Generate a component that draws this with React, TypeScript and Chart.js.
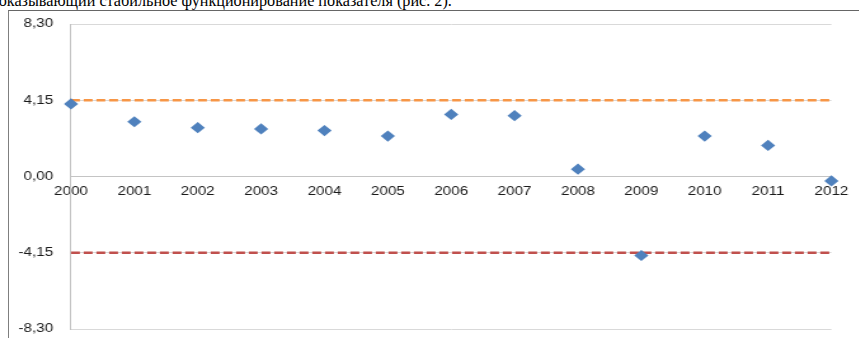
import React, { useEffect, useRef } from 'react';
import { Chart, registerables } from 'chart.js';

Chart.register(...registerables);

// ---- data ----
const years = ['2000', '2001', '2002', '2003', '2004', '2005', '2006', '2007', '2008', '2009', '2010', '2011', '2012'];
const values = [3.95, 2.98, 2.66, 2.59, 2.5, 2.2, 3.38, 3.31, 0.4, -4.3, 2.2, 1.69, -0.24];
const yTicks = [-8.3, -4.15, 0, 4.15, 8.3];
const upperLimit = 4.15;
const lowerLimit = -4.15;
const captionText = 'показывающий стабильное функционирование показателя (рис. 2).';

// ---- layout ----
const PAGE_W = 859;
const PAGE_H = 338;
const S = 1.27; // horizontal stretch of the original picture
const CW = PAGE_W / S;

const fmt = (v: number) => v.toFixed(2).replace('.', ',');

export default function App() {
  const ref = useRef<HTMLCanvasElement | null>(null);

  useEffect(() => {
    if (!ref.current) return;
    const font = { family: "'Liberation Sans', Arial, sans-serif", size: 12 };
    const chart = new Chart(ref.current, {
      type: 'line',
      data: {
        labels: years,
        datasets: [
          {
            label: 'values',
            data: values,
            showLine: false,
            pointStyle: 'rectRot',
            pointRadius: 5.6,
            pointHoverRadius: 5.6,
            backgroundColor: '#4F81BD',
            borderColor: '#4F81BD',
            pointBorderWidth: 0,
          },
          {
            label: 'upper',
            data: [
              { x: years[0], y: upperLimit },
              { x: years[years.length - 1], y: upperLimit },
            ] as any,
            borderColor: '#F79646',
            borderWidth: 2.3,
            borderDash: [7, 3],
            pointRadius: 0,
            fill: false,
          },
          {
            label: 'lower',
            data: [
              { x: years[0], y: lowerLimit },
              { x: years[years.length - 1], y: lowerLimit },
            ] as any,
            borderColor: '#C0504D',
            borderWidth: 2.3,
            borderDash: [7, 3],
            pointRadius: 0,
            fill: false,
          },
        ],
      },
      options: {
        animation: false,
        responsive: false,
        maintainAspectRatio: false,
        devicePixelRatio: 1,
        layout: {
          padding: { left: 0, right: (PAGE_W - 834) / S, top: 24, bottom: PAGE_H - 329 },
        },
        plugins: {
          legend: { display: false },
          tooltip: { enabled: false },
        },
        scales: {
          x: {
            type: 'category',
            position: { y: 0 } as any,
            offset: false,
            grid: { display: false, drawTicks: false },
            border: { display: true, color: '#c4c4c4', width: 1 },
            ticks: { padding: 8, autoSkip: false, maxRotation: 0, font, color: '#1a1a1a' },
          },
          y: {
            type: 'linear',
            min: -8.3,
            max: 8.3,
            afterBuildTicks: (scale: any) => {
              scale.ticks = yTicks.map((v) => ({ value: v }));
            },
            afterFit: (scale: any) => {
              scale.width = 71 / S;
              scale.paddingTop = 0;
              scale.paddingBottom = 0;
            },
            grid: { color: '#d9d9d9', drawTicks: false, lineWidth: 1 },
            border: { display: true, color: '#c4c4c4', width: 1 },
            ticks: {
              padding: 14,
              font,
              color: '#1a1a1a',
              callback: (v: any) => fmt(Number(v)),
            },
          },
        },
      },
    });
    return () => chart.destroy();
  }, []);

  return (
    <div
      style={{
        position: 'absolute',
        left: 0,
        top: 0,
        width: PAGE_W,
        height: PAGE_H,
        overflow: 'hidden',
        background: '#ffffff',
      }}
    >
      <div
        style={{
          position: 'absolute',
          left: -10,
          top: -7.4,
          whiteSpace: 'nowrap',
          fontFamily: "'Liberation Serif', 'Times New Roman', serif",
          fontSize: 16.2,
          lineHeight: '16px',
          color: '#000',
        }}
      >
        {captionText}
      </div>
      <div
        style={{
          position: 'absolute',
          left: 8,
          top: 10,
          width: PAGE_W,
          height: PAGE_H,
          borderLeft: '1px solid #7f7f7f',
          borderTop: '1px solid #666666',
        }}
      />
      <div
        style={{
          position: 'absolute',
          left: 0,
          top: 0,
          width: CW,
          height: PAGE_H,
          transform: `scaleX(${S})`,
          transformOrigin: '0 0',
        }}
      >
        <canvas ref={ref} width={Math.round(CW)} height={PAGE_H} style={{ display: 'block', width: Math.round(CW), height: PAGE_H }} />
      </div>
    </div>
  );
}
